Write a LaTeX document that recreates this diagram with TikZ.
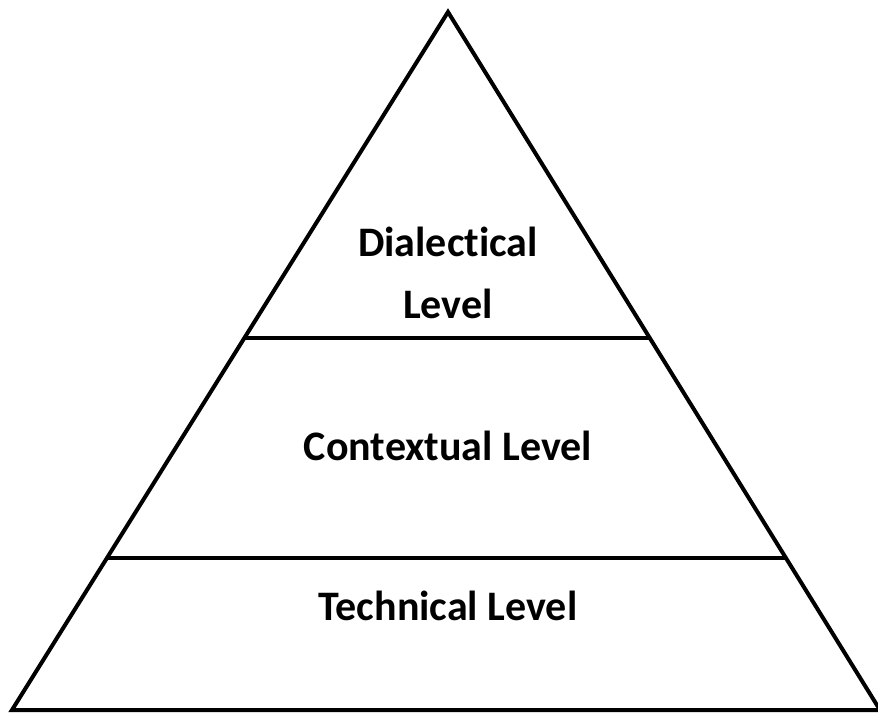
\documentclass[tikz,border=0pt]{standalone}
\usepackage{fontspec}
\setmainfont{Carlito}[Ligatures={NoCommon,NoRare}]
\usetikzlibrary{calc}
\tikzset{>=stealth}
\tikzset{level/.style={font=\bfseries\fontsize{42}{62}\selectfont, align=center}}

\begin{document}
\begin{tikzpicture}[x=1pt, y=-1pt, line width=4pt]
          \useasboundingbox (0, 0) rectangle (878, 713);
          \coordinate (apex) at (448, 12);
          \coordinate (bl) at (12, 710);
          \coordinate (br) at (880, 710);
          \draw[line join=miter] (bl) -- (apex) -- (br) -- cycle;
          % the two floors
          \coordinate (ml) at ($(bl)!0.2175!(apex)$);
          \coordinate (mr) at ($(br)!0.2175!(apex)$);
          \coordinate (ul) at ($(bl)!0.5336!(apex)$);
          \coordinate (ur) at ($(br)!0.5336!(apex)$);
          \draw (ml) -- (mr);
          \draw (ul) -- (ur);
          \node[level] (dial) at (448, 273) {Dialectical\\Level};
          \node[level] (cont) at (448, 446) {Contextual Level};
          \node[level] (tech) at (448, 606) {Technical Level};
        \end{tikzpicture}
\end{document}
